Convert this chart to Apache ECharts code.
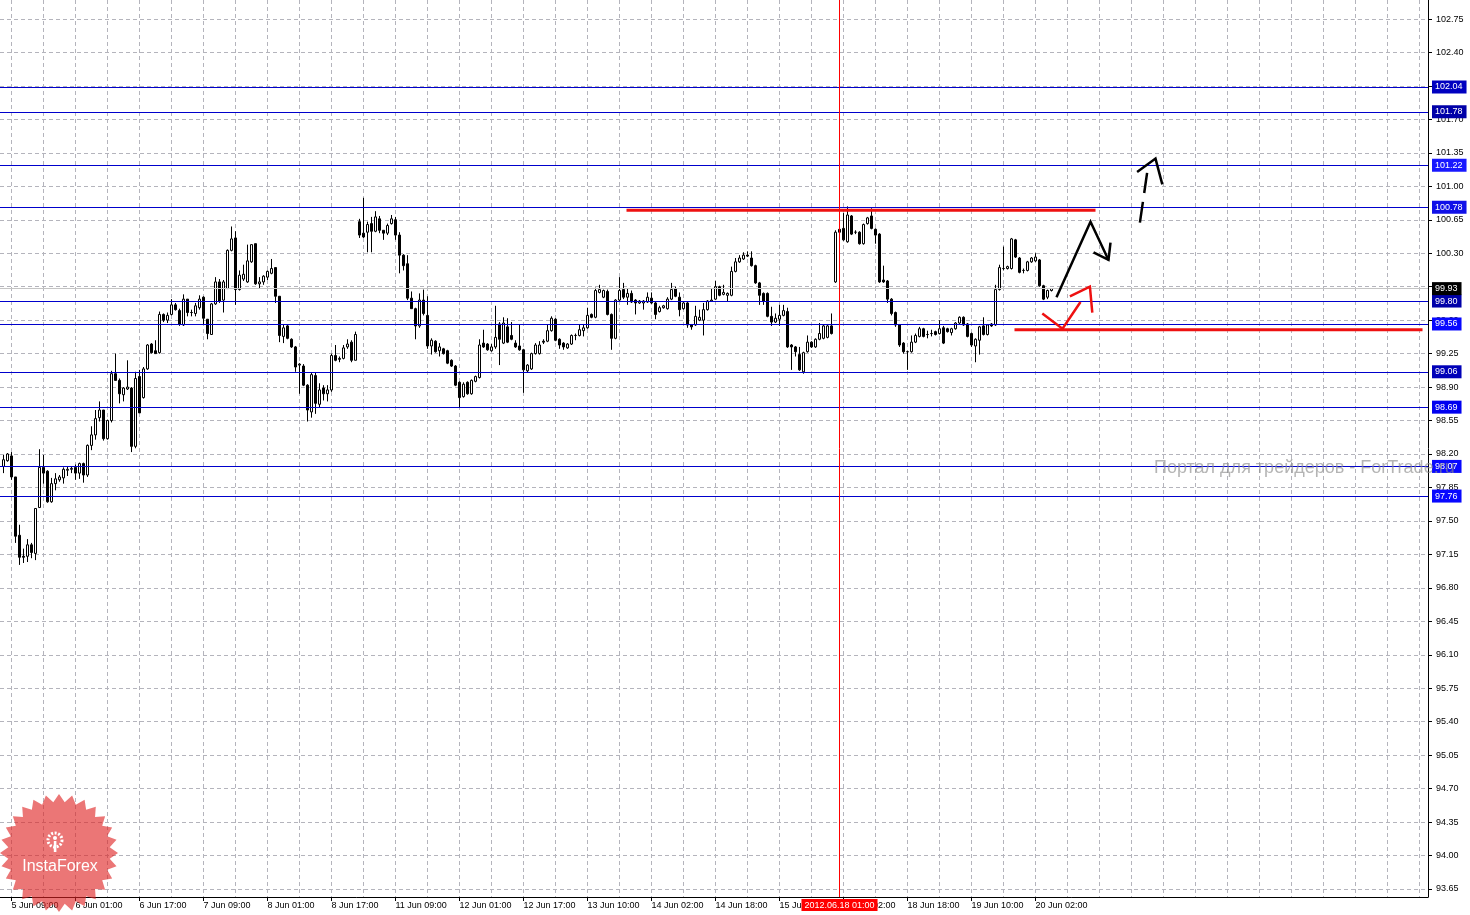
<!DOCTYPE html>
<html><head><meta charset="utf-8">
<script src="https://cdn.jsdelivr.net/npm/echarts@6/dist/echarts.min.js"></script>
<style>html,body{margin:0;padding:0;background:#fff}#c{width:1470px;height:915px}</style>
</head><body><div id="c"></div>
<script>
// ---------- DATA ----------
const openP = [
98.07,98.13,98.18,97.96,97.35,97.13,97.13,97.25,97.16,97.64,
98.06,98.02,97.70,97.89,97.93,97.95,98.03,98.04,98.06,98.00,
98.10,97.98,98.29,98.40,98.58,98.66,98.36,98.55,99.04,98.97,
98.82,98.88,98.89,98.28,99.01,98.79,99.09,99.35,99.28,99.26,
99.66,99.60,99.66,99.76,99.70,99.55,99.82,99.68,99.67,99.73,
99.84,99.61,99.45,99.77,100.00,99.81,99.93,100.33,100.46,99.92,
100.03,100.00,100.21,100.40,99.98,100.00,100.05,100.09,100.15,99.85,
99.43,99.54,99.40,99.32,99.13,99.12,98.92,98.64,99.02,98.72,
98.89,98.83,98.87,99.23,99.19,99.20,99.32,99.37,99.18,100.63,
100.51,100.52,100.61,100.53,100.66,100.54,100.51,100.61,100.65,100.49,
100.28,100.19,99.83,99.72,99.54,99.81,99.65,99.33,99.38,99.28,
99.30,99.28,99.18,99.12,98.95,98.80,98.95,98.83,98.96,99.00,
99.36,99.35,99.28,99.32,99.56,99.36,99.53,99.44,99.36,99.33,
99.29,99.07,99.09,99.25,99.25,99.38,99.38,99.49,99.61,99.40,
99.36,99.31,99.35,99.44,99.44,99.49,99.52,99.66,99.63,99.89,
99.84,99.90,99.66,99.41,99.81,99.92,99.84,99.88,99.81,99.78,
99.78,99.79,99.83,99.78,99.69,99.73,99.72,99.82,99.93,99.84,
99.72,99.78,99.55,99.55,99.60,99.60,99.71,99.80,99.82,99.95,
99.87,99.86,99.86,100.11,100.21,100.24,100.28,100.25,100.17,99.99,
99.88,99.88,99.64,99.58,99.61,99.65,99.69,99.34,99.32,99.24,
99.06,99.27,99.37,99.32,99.40,99.41,99.42,99.54,100.00,100.55,
100.56,100.42,100.69,100.52,100.52,100.40,100.61,100.69,100.55,100.50,
100.02,100.01,99.82,99.68,99.55,99.36,99.27,99.27,99.37,99.43,
99.51,99.45,99.46,99.48,99.46,99.52,99.51,99.47,99.51,99.57,
99.63,99.56,99.46,99.33,99.39,99.54,99.45,99.56,99.55,99.92,
100.14,100.14,100.14,100.44,100.25,100.12,100.12,100.21,100.22,100.23,
99.96,99.84,99.91];
const closeP = [
98.14,98.20,97.96,97.34,97.12,97.12,97.25,97.17,97.63,98.06,
98.00,97.70,97.89,97.94,97.96,98.04,98.04,98.05,98.00,98.10,
97.98,98.29,98.40,98.57,98.66,98.36,98.55,99.04,98.97,98.83,
98.89,98.90,98.28,98.99,98.63,99.09,99.34,99.26,99.25,99.66,
99.60,99.65,99.76,99.71,99.56,99.82,99.68,99.68,99.75,99.82,
99.62,99.46,99.77,100.00,99.80,100.00,100.33,100.45,99.92,100.07,
100.08,100.22,100.39,99.98,100.00,100.06,100.11,100.14,99.85,99.44,
99.52,99.41,99.32,99.11,99.14,98.92,98.66,99.03,98.73,98.87,
98.83,98.87,99.23,99.18,99.20,99.31,99.35,99.18,99.45,100.49,
100.47,100.60,100.53,100.68,100.54,100.51,100.59,100.66,100.49,100.28,
100.17,99.83,99.72,99.54,99.81,99.67,99.33,99.39,99.27,99.32,
99.25,99.15,99.12,98.92,98.79,98.93,98.83,98.97,99.01,99.34,
99.32,99.29,99.32,99.42,99.40,99.57,99.37,99.40,99.32,99.29,
99.08,99.13,99.25,99.34,99.34,99.37,99.49,99.62,99.39,99.34,
99.32,99.35,99.44,99.44,99.50,99.52,99.65,99.63,99.91,99.92,
99.91,99.66,99.41,99.81,99.91,99.84,99.88,99.79,99.78,99.80,
99.80,99.84,99.78,99.66,99.73,99.75,99.82,99.92,99.85,99.71,
99.78,99.55,99.53,99.64,99.63,99.71,99.80,99.81,99.95,99.86,
99.89,99.88,100.11,100.21,100.25,100.28,100.27,100.17,99.99,99.86,
99.80,99.64,99.58,99.62,99.65,99.70,99.32,99.32,99.27,99.08,
99.26,99.37,99.32,99.40,99.46,99.54,99.54,99.46,100.52,100.52,
100.44,100.70,100.50,100.52,100.40,100.60,100.67,100.56,100.49,100.00,
100.00,99.82,99.67,99.55,99.34,99.27,99.27,99.37,99.44,99.51,
99.43,99.45,99.46,99.45,99.51,99.36,99.48,99.51,99.57,99.63,
99.55,99.43,99.34,99.40,99.53,99.45,99.55,99.54,99.92,100.15,
100.14,100.16,100.45,100.26,100.10,100.12,100.21,100.25,100.26,99.96,
99.82,99.91,99.93];
const lowP = [
98.00,98.12,97.93,97.27,97.04,97.06,97.07,97.11,97.09,97.64,
97.89,97.69,97.69,97.82,97.91,97.89,97.97,98.00,97.93,97.94,
97.90,97.96,98.24,98.35,98.54,98.34,98.35,98.53,98.97,98.73,
98.75,98.87,98.22,98.26,98.63,98.78,99.08,99.25,99.25,99.25,
99.58,99.57,99.65,99.70,99.54,99.54,99.64,99.64,99.64,99.71,
99.55,99.40,99.45,99.76,99.78,99.68,99.93,100.32,99.76,99.91,
100.01,99.99,100.20,99.97,99.93,99.97,100.02,100.08,99.78,99.37,
99.36,99.40,99.31,99.06,98.83,98.91,98.54,98.58,98.62,98.69,
98.76,98.75,98.85,99.17,99.16,99.19,99.30,99.16,99.18,100.46,
100.46,100.31,100.31,100.52,100.51,100.44,100.49,100.60,100.44,100.09,
100.12,99.81,99.72,99.40,99.52,99.65,99.30,99.24,99.26,99.22,
99.24,99.14,99.11,98.91,98.69,98.79,98.82,98.82,98.95,98.99,
99.31,99.28,99.27,99.30,99.13,99.35,99.36,99.39,99.31,99.28,
98.84,99.05,99.08,99.24,99.24,99.35,99.37,99.48,99.38,99.30,
99.29,99.30,99.34,99.39,99.43,99.43,99.51,99.62,99.62,99.88,
99.83,99.65,99.29,99.40,99.80,99.82,99.76,99.78,99.66,99.77,
99.71,99.78,99.77,99.61,99.68,99.72,99.71,99.81,99.84,99.64,
99.71,99.52,99.50,99.54,99.59,99.44,99.70,99.79,99.81,99.85,
99.86,99.79,99.85,100.10,100.20,100.23,100.26,100.16,99.98,99.76,
99.76,99.63,99.54,99.57,99.54,99.64,99.31,99.08,99.22,99.07,
99.04,99.26,99.31,99.31,99.39,99.40,99.41,99.45,99.99,100.50,
100.43,100.41,100.49,100.50,100.39,100.39,100.60,100.55,100.40,99.99,
99.99,99.78,99.65,99.53,99.32,99.25,99.08,99.26,99.36,99.42,
99.42,99.41,99.43,99.44,99.45,99.35,99.47,99.44,99.50,99.56,
99.54,99.42,99.32,99.16,99.24,99.44,99.44,99.53,99.54,99.91,
100.12,100.13,100.13,100.25,100.09,100.09,100.11,100.20,100.21,99.95,
99.81,99.82,99.90];
const highP = [
98.19,98.21,98.22,97.96,97.46,97.21,97.31,97.27,97.63,98.25,
98.19,98.03,97.95,98.00,97.98,98.06,98.07,98.07,98.09,98.11,
98.11,98.30,98.49,98.66,98.75,98.66,98.56,99.07,99.25,98.99,
98.90,99.18,98.90,99.06,99.08,99.11,99.35,99.36,99.39,99.69,
99.67,99.68,99.82,99.78,99.72,99.87,99.82,99.71,99.78,99.86,
99.85,99.61,99.78,100.05,100.03,100.02,100.34,100.58,100.53,100.12,
100.18,100.39,100.39,100.40,100.05,100.07,100.12,100.24,100.15,99.85,
99.55,99.55,99.41,99.33,99.15,99.14,98.93,99.05,99.05,98.94,
98.92,98.92,99.25,99.34,99.22,99.34,99.40,99.39,99.48,100.66,
100.88,100.63,100.68,100.74,100.69,100.54,100.61,100.70,100.68,100.52,
100.29,100.28,99.90,99.73,99.88,99.92,99.85,99.41,99.39,99.36,
99.31,99.29,99.19,99.13,98.96,98.95,98.96,98.98,99.02,99.40,
99.50,99.36,99.35,99.75,99.58,99.63,99.62,99.58,99.39,99.56,
99.30,99.14,99.26,99.36,99.38,99.40,99.55,99.64,99.62,99.41,
99.37,99.36,99.45,99.46,99.55,99.56,99.73,99.67,99.94,99.97,
99.92,99.92,99.67,99.82,100.05,99.99,99.93,99.91,99.82,99.81,
99.81,99.89,99.89,99.79,99.75,99.76,99.84,99.99,99.95,99.89,
99.80,99.79,99.56,99.75,99.71,99.78,99.81,99.93,100.01,99.96,
99.97,99.89,100.16,100.25,100.28,100.31,100.32,100.32,100.18,100.00,
99.89,99.89,99.74,99.67,99.76,99.76,99.73,99.35,99.33,99.32,
99.27,99.44,99.38,99.41,99.57,99.55,99.56,99.67,100.54,100.57,
100.72,100.79,100.70,100.54,100.53,100.61,100.68,100.77,100.56,100.51,
100.17,100.02,99.83,99.69,99.56,99.37,99.28,99.44,99.46,99.53,
99.52,99.49,99.50,99.49,99.60,99.54,99.52,99.52,99.58,99.64,
99.64,99.57,99.47,99.41,99.54,99.63,99.56,99.57,99.97,100.18,
100.37,100.17,100.46,100.45,100.26,100.14,100.22,100.26,100.30,100.24,
99.97,99.92,99.93];

const slotCount = 357;                // hourly slots on the time axis (bars + empty future area)
const xTickLabels = ['5 Jun 09:00','6 Jun 01:00','6 Jun 17:00','7 Jun 09:00','8 Jun 01:00','8 Jun 17:00',
  '11 Jun 09:00','12 Jun 01:00','12 Jun 17:00','13 Jun 10:00','14 Jun 02:00','14 Jun 18:00',
  '15 Jun 10:00','18 Jun 02:00','18 Jun 18:00','19 Jun 10:00','20 Jun 02:00'];
const xTickBars = [2,18,34,50,66,82,98,114,130,146,162,178,194,210,226,242,258];
const xGridBars = [2,10,18,26,34,42,50,58,66,74,82,90,98,106,114,122,130,138,146,154,162,170,178,186,
  194,202,210,218,226,234,242,250,258,266,274,282,290,298,306,314,322,330,338,346,354];
const yTicks = [93.65,94.00,94.35,94.70,95.05,95.40,95.75,96.10,96.45,96.80,97.15,97.50,97.85,98.20,
  98.55,98.90,99.25,99.60,99.95,100.30,100.65,101.00,101.35,101.70,102.05,102.40,102.75];
const levelPrices = [102.04,101.78,101.22,100.78,99.80,99.56,99.06,98.69,98.07,97.76];
const bidPrice = 99.93;
const markerIndex = 209;
const markerLabel = '2012.06.18 01:00';
// hand-drawn annotations, [bar index, price]
const resistLine = [[155.75,100.75],[273,100.75]];
const supportLine = [[252.75,99.50],[354.75,99.50]];
const blackPath = [[263.25,99.84],[271.75,100.63],[276.25,100.23]];
const blackHead = [[272.5,100.31],[276.25,100.23],[276.75,100.41]];
const dashStem = [[284.1,100.62],[285.9,101.14]];
const dashHead = [[283.4,101.15],[288,101.29],[289.7,101.02]];
const redPath = [[259.7,99.67],[264.75,99.51],[269.25,99.79]];
const redHead = [[266.6,99.85],[271.6,99.95],[272.2,99.68]];

// ---------- STYLE ----------
const FONT = 'Liberation Sans';
const levelBg = ['#0000c0','#0000a8','#1818ff','#1010e8','#0000a8','#0808ff','#0000b8','#0000f0','#0808ff','#0808ff'];
const levelLineColor = '#0000cc';
const gridColor = '#b4b4bc';
const xMin = -0.875;

const candles = openP.map((o, i) => [i, o, closeP[i], lowP[i], highP[i]]);
const labelAt = {};
xTickBars.forEach((b, k) => { labelAt[b] = xTickLabels[k]; });

const chart = echarts.init(document.getElementById('c'), null, {renderer: 'canvas'});

const mlData = levelPrices.map((v, i) => ({
  yAxis: v,
  lineStyle: {color: levelLineColor, width: 1, type: 'solid'},
  label: {backgroundColor: levelBg[i]}
}));
mlData.push({yAxis: bidPrice, lineStyle: {color: '#c4c4c4', width: 1, type: 'solid'},
  label: {backgroundColor: '#000000'}});
mlData.push({xAxis: markerIndex, lineStyle: {color: '#ff0000', width: 1, type: 'solid'},
  label: {position: 'start', formatter: markerLabel, backgroundColor: '#ff0000', distance: 2, padding: [2, 3, 1, 3]}});

function lineSeries(data, color, width, dash) {
  return {
    type: 'line', xAxisIndex: 0, yAxisIndex: 0, data: data, symbol: 'none', silent: true,
    lineStyle: {color: color, width: width, type: dash || 'solid', cap: 'butt', join: 'miter'},
    z: 5, animation: false
  };
}

// logo star polygon (decoration)
const star = [];
const cx = 59, cy = 853, R = 59, r = 51, n = 28;
for (let k = 0; k < 2 * n; k++) {
  const a = -Math.PI / 2 + k * Math.PI / n;
  const rr = k % 2 === 0 ? R : r;
  star.push([cx + rr * Math.cos(a), cy + rr * Math.sin(a)]);
}

chart.setOption({
  animation: false,
  backgroundColor: '#ffffff',
  grid: {left: 0, right: 42, top: 0, bottom: 18, containLabel: false},
  xAxis: [{
    type: 'value', min: xMin, max: xMin + slotCount, position: 'bottom',
    axisLine: {show: true, onZero: false, lineStyle: {color: '#000', width: 1}},
    axisTick: {show: true, length: 4, customValues: xTickBars, lineStyle: {color: '#000'}},
    axisLabel: {show: true, customValues: xTickBars, formatter: (v) => labelAt[Math.round(v)] || '',
      align: 'left', margin: 4, color: '#000', fontSize: 9, fontFamily: FONT, showMinLabel: true, showMaxLabel: true,
      hideOverlap: false},
    splitLine: {show: false}
  }, {
    type: 'value', min: xMin, max: xMin + slotCount, position: 'top',
    axisLine: {show: false}, axisLabel: {show: false},
    axisTick: {show: false, customValues: xGridBars},
    splitLine: {show: true, lineStyle: {color: gridColor, type: [4, 3], width: 1}}
  }],
  yAxis: [{
    type: 'value', position: 'right', min: 93.566, max: 102.949, scale: true,
    axisLine: {show: true, onZero: false, lineStyle: {color: '#000', width: 1}},
    axisTick: {show: true, length: 4, customValues: yTicks, lineStyle: {color: '#000'}},
    axisLabel: {show: true, customValues: yTicks, formatter: (v) => Number(v).toFixed(2), margin: 8,
      color: '#000', fontSize: 9, fontFamily: FONT, showMinLabel: true, showMaxLabel: true},
    splitLine: {show: true, lineStyle: {color: gridColor, type: [4, 3], width: 1}}
  }],
  series: [
    {
      type: 'candlestick', xAxisIndex: 0, yAxisIndex: 0, data: candles, barWidth: 2,
      encode: {x: 0, y: [1, 2, 3, 4]},
      itemStyle: {color: '#ffffff', color0: '#000000', borderColor: '#000000', borderColor0: '#000000', borderWidth: 1},
      emphasis: {disabled: true}, silent: true, z: 3,
      markLine: {
        silent: true, symbol: ['none', 'none'], animation: false, precision: 2,
        label: {show: true, position: 'end', distance: 4, formatter: (p) => Number(p.value).toFixed(2),
          color: '#ffffff', fontSize: 9, fontFamily: FONT, padding: [2, 4, 2, 3]},
        emphasis: {disabled: true},
        data: mlData
      }
    },
    lineSeries(resistLine, '#ee1111', 3),
    lineSeries(supportLine, '#ee1111', 3),
    lineSeries(blackPath, '#000000', 2.5),
    lineSeries(blackHead, '#000000', 2.5),
    lineSeries(dashStem, '#000000', 2.5, [21, 9]),
    lineSeries(dashHead, '#000000', 2.5),
    lineSeries(redPath, '#ee1111', 2.5),
    lineSeries(redHead, '#ee1111', 2.5)
  ],
  graphic: [
    {type: 'polygon', shape: {points: star}, style: {fill: 'rgba(222,34,34,0.62)'}, z: 50, silent: true},
    {type: 'circle', shape: {cx: 55, cy: 840, r: 7}, style: {fill: 'none', stroke: '#ffffff', lineWidth: 3, lineDash: [2, 1.6]}, z: 51, silent: true},
    {type: 'circle', shape: {cx: 55, cy: 838, r: 2}, style: {fill: '#ffffff'}, z: 51, silent: true},
    {type: 'rect', shape: {x: 53.8, y: 841, width: 2.6, height: 11}, style: {fill: '#ffffff'}, z: 51, silent: true},
    {type: 'text', x: 60, y: 867, style: {text: 'InstaForex', fill: '#ffffff', font: '16px "Liberation Sans"', align: 'center', verticalAlign: 'middle'}, z: 52, silent: true},
    {type: 'text', x: 1154, y: 468, style: {text: 'Портал для трейдеров - ForTrade.ru', fill: 'rgba(140,140,140,0.65)', font: '18px "Liberation Sans"', align: 'left', verticalAlign: 'middle'}, z: 100, silent: true}
  ]
});
</script>
</body></html>
